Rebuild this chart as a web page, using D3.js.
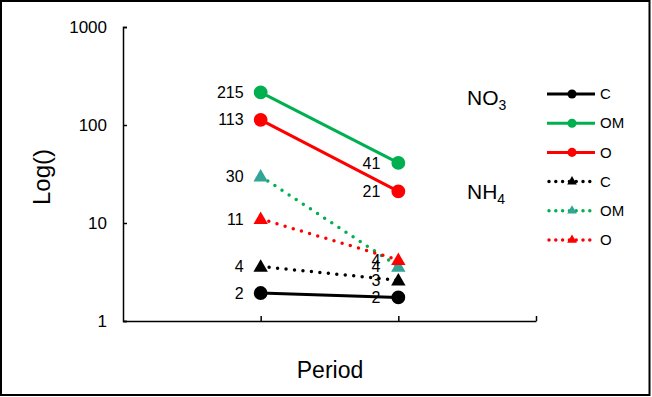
<!DOCTYPE html>
<html>
<head>
<meta charset="utf-8">
<script src="https://cdn.jsdelivr.net/npm/d3@7"></script>
<style>
	body { margin: 0; background: #fff; }
	svg { display: block; font-family: Arial, 'Liberation Sans', sans-serif; }
</style>
</head>
<body>
<svg id="plot" width="652" height="397"></svg>
<script>

// two periods, placed at positions 1 and 2 of a 0..3 category axis
const PERIODS = [1, 2];
const Y_TICKS = [1, 10, 100, 1000];

// NO3 (solid lines, circles)
const NO3_C = [1.93, 1.74];
const NO3_OM = [215, 41];
const NO3_O = [113, 21];

// NH4 (dotted lines, triangles)
const NH4_C = [3.6, 2.6];
const NH4_OM = [30, 3.6];
const NH4_O = [11, 4.2];

const SERIES_NAMES = ['C', 'OM', 'O', 'C', 'OM', 'O'];
const GROUP_NAMES = ['NO', 'NH'];
const GROUP_SUBS = ['3', '4'];

function whenDocumentLoaded(action) {
	if (document.readyState === "loading") {
		document.addEventListener("DOMContentLoaded", action);
	} else {
		action();
	}
}

whenDocumentLoaded(() => {
	const svg = d3.select('#plot');

	const series = [
		{ name: SERIES_NAMES[0], values: NO3_C, color: '#000', marker: '#000', dotted: false },
		{ name: SERIES_NAMES[1], values: NO3_OM, color: '#00b050', marker: '#00b050', dotted: false },
		{ name: SERIES_NAMES[2], values: NO3_O, color: '#ff0000', marker: '#ff0000', dotted: false },
		{ name: SERIES_NAMES[3], values: NH4_C, color: '#000', marker: '#000', dotted: true },
		{ name: SERIES_NAMES[4], values: NH4_OM, color: '#00b050', marker: '#32a597', dotted: true },
		{ name: SERIES_NAMES[5], values: NH4_O, color: '#ff0000', marker: '#ff0000', dotted: true }
	];

	// outer frame
	svg.append('rect')
		.attr('x', 1).attr('y', 1)
		.attr('width', 648.5).attr('height', 394)
		.attr('fill', '#fff')
		.attr('stroke', '#000')
		.attr('stroke-width', 2);

	const x = d3.scaleLinear().domain([0, 3]).range([123, 536]);
	const y = d3.scaleLog().domain([1, 1000]).range([321, 27]);

	// y axis, ticks inside
	const yAxis = svg.append('g')
		.attr('transform', `translate(${x(0)},0)`)
		.call(d3.axisLeft(y)
			.tickValues(Y_TICKS)
			.tickFormat(d3.format('d'))
			.tickSizeInner(-4)
			.tickSizeOuter(-4)
			.tickPadding(16));
	yAxis.select('.domain').attr('stroke-width', 1.5);
	yAxis.selectAll('.tick line').attr('stroke-width', 1.5);
	yAxis.selectAll('text').attr('font-size', 17).attr('fill', '#000');

	// x axis, ticks inside, no labels
	const xAxis = svg.append('g')
		.attr('transform', `translate(0,${y(1)})`)
		.call(d3.axisBottom(x)
			.tickValues([1, 2, 3])
			.tickFormat('')
			.tickSizeInner(-5)
			.tickSizeOuter(0));
	xAxis.select('.domain').attr('stroke-width', 1.5);
	xAxis.selectAll('.tick line').attr('stroke-width', 1.5);

	// axis titles
	svg.append('text')
		.attr('transform', 'translate(50,177) rotate(-90)')
		.attr('text-anchor', 'middle')
		.attr('font-size', 24)
		.text('Log()');

	svg.append('text')
		.attr('x', 330).attr('y', 378)
		.attr('text-anchor', 'middle')
		.attr('font-size', 23)
		.text('Period');

	const line = d3.line()
		.x((d, i) => x(PERIODS[i]))
		.y(d => y(d));

	const circle = d3.symbol().type(d3.symbolCircle).size(150);
	const tri = d3.symbol().type(d3.symbolTriangle).size(90);
	const fmt = d3.format('.0f');

	series.forEach((s, si) => {
		const g = svg.append('g');
		g.append('path')
			.datum(s.values)
			.attr('d', line)
			.attr('fill', 'none')
			.attr('stroke', s.color)
			.attr('stroke-width', s.dotted ? 3.5 : 3)
			.attr('stroke-linecap', s.dotted ? 'round' : 'butt')
			.attr('stroke-dasharray', s.dotted ? '0 8.5' : null);

		g.selectAll('path.mark')
			.data(s.values)
			.enter().append('path')
			.classed('mark', true)
			.attr('d', s.dotted ? tri : circle)
			.attr('transform', (d, i) => `translate(${x(PERIODS[i])},${y(d) + (s.dotted ? 1 : 0)})`)
			.attr('fill', s.marker);

		g.selectAll('text')
			.data(s.values)
			.enter().append('text')
			.attr('x', (d, i) => x(PERIODS[i]) - (i === 0 ? 17 : 18))
			.attr('y', d => y(d))
			.attr('dy', '0.35em')
			.attr('text-anchor', 'end')
			.attr('font-size', 16)
			.text(d => fmt(d));
	});

	// group labels NO3 / NH4
	const groupY = [98, 192];
	GROUP_NAMES.forEach((name, i) => {
		const t = svg.append('text')
			.attr('x', 467).attr('y', groupY[i] + 7)
			.attr('font-size', 21);
		t.append('tspan').text(name);
		t.append('tspan').attr('font-size', 14).attr('dy', 5).text(GROUP_SUBS[i]);
	});

	// legend
	const legendY = d3.scaleLinear().domain([0, 5]).range([94, 240]);
	const lcircle = d3.symbol().type(d3.symbolCircle).size(65);
	const ltri = d3.symbol().type(d3.symbolTriangle).size(40);

	series.forEach((s, i) => {
		const ly = legendY(i);
		const g = svg.append('g');
		g.append('line')
			.attr('x1', s.dotted ? 549 : 547).attr('x2', s.dotted ? 595 : 595)
			.attr('y1', ly).attr('y2', ly)
			.attr('stroke', s.color)
			.attr('stroke-width', s.dotted ? 3.5 : 3)
			.attr('stroke-linecap', s.dotted ? 'round' : 'butt')
			.attr('stroke-dasharray', s.dotted ? '0 6.8' : null);
		g.append('path')
			.attr('d', s.dotted ? ltri : lcircle)
			.attr('transform', `translate(572,${ly})`)
			.attr('fill', s.marker);
		g.append('text')
			.attr('x', 600).attr('y', ly)
			.attr('dy', '0.35em')
			.attr('font-size', 15)
			.text(s.name);
	});
});
</script>
</body>
</html>
